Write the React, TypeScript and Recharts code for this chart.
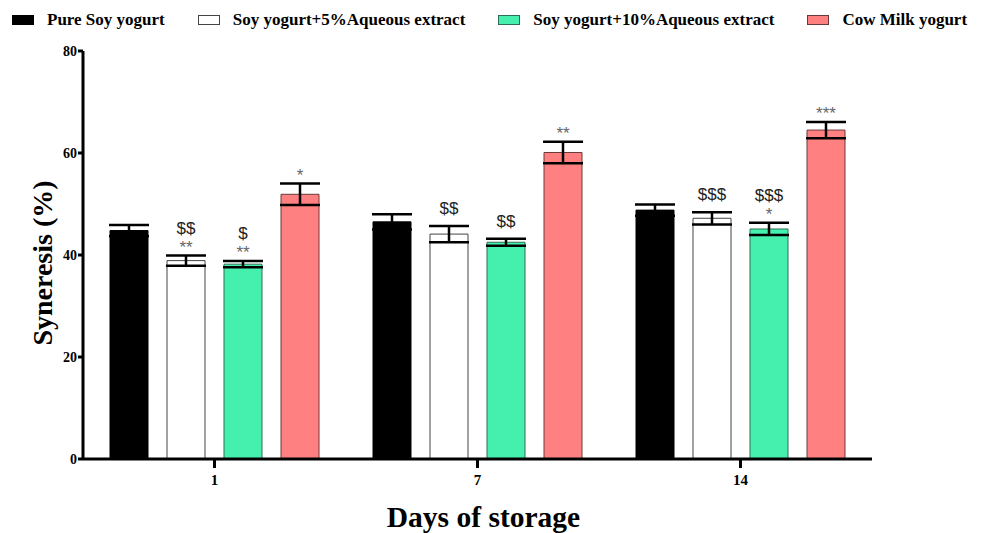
import { BarChart, Bar, XAxis, YAxis, ErrorBar, LabelList, Legend, Label } from 'recharts';

const days = ['1', '7', '14'];

const pureSoy = [44.8, 46.5, 48.8];
const pureSoyErr = [1.1, 1.5, 1.1];
const soy5 = [38.9, 44.1, 47.2];
const soy5Err = [1.0, 1.6, 1.2];
const soy10 = [38.2, 42.5, 45.1];
const soy10Err = [0.6, 0.7, 1.2];
const cowMilk = [51.9, 60.1, 64.5];
const cowMilkErr = [2.1, 2.1, 1.6];

// significance marks, top line first
const pureSoySig: string[][] = [[], [], []];
const soy5Sig: string[][] = [['$$', '**'], ['$$'], ['$$$']];
const soy10Sig: string[][] = [['$', '**'], ['$$'], ['$$$', '*']];
const cowMilkSig: string[][] = [['*'], ['**'], ['***']];

const yTicks = [0, 20, 40, 60, 80];

const data = days.map((day, i) => ({
  day,
  pure: pureSoy[i],
  pureErr: pureSoyErr[i],
  soy5: soy5[i],
  soy5Err: soy5Err[i],
  soy10: soy10[i],
  soy10Err: soy10Err[i],
  cow: cowMilk[i],
  cowErr: cowMilkErr[i],
}));

const SERIES = [
  { key: 'pure', name: 'Pure Soy yogurt', fill: '#000000', stroke: '#000000', sig: pureSoySig, err: pureSoyErr },
  { key: 'soy5', name: 'Soy yogurt+5%Aqueous extract', fill: '#ffffff', stroke: '#444444', sig: soy5Sig, err: soy5Err },
  { key: 'soy10', name: 'Soy yogurt+10%Aqueous extract', fill: '#45F0AE', stroke: '#2e6e52', sig: soy10Sig, err: soy10Err },
  { key: 'cow', name: 'Cow Milk yogurt', fill: '#FF8080', stroke: '#6b3a3a', sig: cowMilkSig, err: cowMilkErr },
];

const SERIF = '"Liberation Serif", "Times New Roman", serif';

const makeSig = (sigs: string[][], errs: number[]) => (props: any) => {
  const { x, y, width, height, value, index } = props;
  const lines = sigs[index] || [];
  if (!lines.length || !value) return null;
  const perUnit = Number(height) / Number(value);
  const errTop = Number(y) - errs[index] * perUnit;
  const cx = Number(x) + Number(width) / 2;
  return (
    <g>
      {lines
        .slice()
        .reverse()
        .map((ln, k) => {
          const isStar = ln.startsWith('*');
          const base = k === 0 ? errTop - (isStar ? 3 : 12) : errTop - 22 - (k - 1) * 20;
          return (
            <text
              key={k}
              x={cx}
              y={base}
              textAnchor="middle"
              fontFamily='"Liberation Sans", Arial, sans-serif'
              fontSize={17}
              fill={isStar ? '#666666' : '#222222'}
            >
              {ln}
            </text>
          );
        })}
    </g>
  );
};

const renderLegend = () => (
  <div
    style={{
      display: 'flex',
      alignItems: 'center',
      fontFamily: SERIF,
      fontWeight: 'bold',
      fontSize: 17,
      lineHeight: '20px',
      color: '#000',
      whiteSpace: 'nowrap',
    }}
  >
    {SERIES.map((s) => (
      <div key={s.key} style={{ display: 'flex', alignItems: 'center', marginRight: 33 }}>
        <span
          style={{
            display: 'inline-block',
            width: 20,
            height: 8,
            background: s.fill,
            border: `1px solid ${s.stroke}`,
            marginRight: 13,
          }}
        />
        {s.name}
      </div>
    ))}
  </div>
);

export default function App() {
  return (
    <BarChart
      width={979}
      height={525}
      data={data}
      margin={{ top: 23, right: 115, bottom: 14, left: 0 }}
      barSize={38}
      barGap={19}
    >
      <Legend
        verticalAlign="top"
        align="left"
        content={renderLegend}
        wrapperStyle={{ top: 2, left: 4, width: 975 }}
      />
      <XAxis
        dataKey="day"
        height={60}
        axisLine={{ stroke: '#000', strokeWidth: 3 }}
        tickLine={{ stroke: '#000', strokeWidth: 3 }}
        tickSize={9}
        tickMargin={6}
        tick={{ fill: '#000', fontFamily: SERIF, fontWeight: 'bold', fontSize: 15 }}
      >
        <Label
          content={({ viewBox }: any) => (
            <text
              x={viewBox.x + viewBox.width / 2 + 6}
              y={viewBox.y + 68}
              textAnchor="middle"
              fontFamily={SERIF}
              fontWeight="bold"
              fontSize={29.5}
              fill="#000"
            >
              Days of storage
            </text>
          )}
        />
      </XAxis>
      <YAxis
        width={75}
        domain={[0, 80]}
        ticks={yTicks}
        interval={0}
        axisLine={{ stroke: '#000', strokeWidth: 3 }}
        tickLine={{ stroke: '#000', strokeWidth: 3 }}
        tickSize={5}
        tickMargin={1}
        tick={{ fill: '#000', fontFamily: SERIF, fontWeight: 'bold', fontSize: 14 }}
      >
        <Label
          content={({ viewBox }: any) => {
            const cx = viewBox.x + 34;
            const cy = viewBox.y + viewBox.height / 2 + 8;
            return (
              <text
                x={cx}
                y={cy}
                transform={`rotate(-90 ${cx} ${cy})`}
                textAnchor="middle"
                dominantBaseline="central"
                fontFamily={SERIF}
                fontWeight="bold"
                fontSize={28}
                fill="#000"
              >
                Syneresis (%)
              </text>
            );
          }}
        />
      </YAxis>
      {SERIES.map((s) => (
        <Bar
          key={s.key}
          dataKey={s.key}
          name={s.name}
          fill={s.fill}
          stroke={s.stroke}
          strokeWidth={1}
          isAnimationActive={false}
        >
          <ErrorBar dataKey={`${s.key}Err`} width={20} stroke="#000" strokeWidth={2.5} />
          <LabelList dataKey={s.key} content={makeSig(s.sig, s.err)} />
        </Bar>
      ))}
    </BarChart>
  );
}
